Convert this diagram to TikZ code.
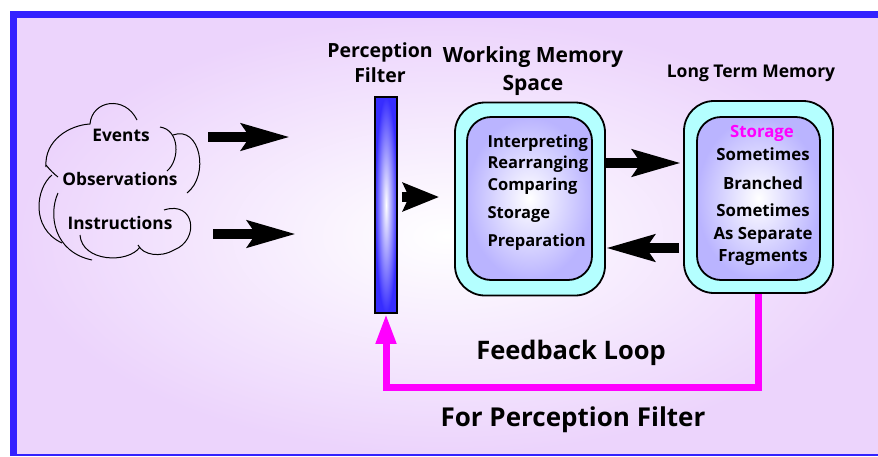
\documentclass[tikz,border=0pt]{standalone}
\usepackage{fontspec}
\setmainfont{Open Sans}
\usetikzlibrary{arrows.meta}
\definecolor{lav}{RGB}{236,212,252}
\definecolor{frameblue}{RGB}{51,34,255}
\definecolor{boxcyan}{RGB}{180,255,255}
\definecolor{boxlav}{RGB}{186,180,255}
\definecolor{barblue}{RGB}{55,45,255}
\definecolor{loopmag}{RGB}{255,0,255}
\tikzset{
  bigarrow/.style={line width=10pt, -{Stealth[length=48pt,width=26pt,inset=8pt]}},
  midarrow/.style={line width=10pt, -{Stealth[length=36pt,width=28pt,inset=6pt]}},
  outerbox/.style={draw, line width=1.8pt, fill=boxcyan, rounded corners=30pt, inner sep=0pt},
  innerbox/.style={draw, line width=1.8pt, inner color=white, outer color=boxlav, rounded corners=24pt, inner sep=0pt},
  cloudtxt/.style={anchor=base, font=\bfseries\fontsize{17.3}{19}\selectfont},
  cloudline/.style={line width=1pt},
  boxtxt/.style={anchor=base west, font=\bfseries\fontsize{16.5}{20}\selectfont},
  ltmtxt/.style={anchor=base, font=\bfseries\fontsize{16.8}{20}\selectfont},
  headtxt/.style={anchor=base, font=\bfseries\fontsize{19.5}{22}\selectfont},
}
\begin{document}
\begin{tikzpicture}[x=1pt,y=-1pt]
    \useasboundingbox (0,0) rectangle (878,456);
    % panel and frame
    \shade[inner color=white, outer color=lav] (17,18) rectangle (878,454);
    \fill[frameblue] (10,11) rectangle (878,18);
    \fill[frameblue] (10,11) rectangle (17,456);
    \fill[frameblue] (10,454) rectangle (878,456);
    % cloud
    \draw[cloudline] (46,167) .. controls (44,140) and (70,125) .. (90,124)
      .. controls (92,100) and (125,95) .. (137,120);
    \draw[cloudline] (46,165) .. controls (50,170) and (54,174) .. (58,177);
    \draw[cloudline] (52,175) .. controls (36,188) and (30,228) .. (62,243);
    \draw[cloudline] (58,193) .. controls (48,215) and (54,252) .. (92,260);
    \draw[cloudline] (80,235) .. controls (82,262) and (128,264) .. (140,247);
    \draw[cloudline] (164,210) .. controls (195,200) and (200,240) .. (174,250)
      .. controls (160,258) and (143,255) .. (138,245);
    \draw[cloudline] (160,127) .. controls (180,130) and (180,160) .. (167,171);
    \draw[cloudline] (173,135) .. controls (200,125) and (210,175) .. (187,193);
    \node[cloudtxt] (events) at (121,141) {Events};
    \node[cloudtxt] (observ) at (120,185) {Observations};
    \node[cloudtxt] (instr) at (120,229) {Instructions};
    \coordinate (in1a) at (208,137);
    \coordinate (in1b) at (290,137);
    \coordinate (in2a) at (213,234);
    \coordinate (in2b) at (296,234);
    \draw[bigarrow] (in1a) -- (in1b);
    \draw[bigarrow] (in2a) -- (in2b);
    % perception filter
    \node[draw, line width=1.5pt, inner color=white, outer color=barblue, minimum width=22pt, minimum height=216pt, inner sep=0pt] (filter) at (386,205) {};
    \node[headtxt] at (380,57) {Perception};
    \node[headtxt] at (380,82) {Filter};
    % working memory
    \node[outerbox, minimum width=150pt, minimum height=193pt] (wmout) at (530,199) {};
    \node[innerbox, minimum width=125pt, minimum height=163pt] (wmin) at (529.5,198.5) {};
    \node[headtxt, font=\bfseries\fontsize{21}{24}\selectfont] at (533,62) {Working Memory};
    \node[headtxt, font=\bfseries\fontsize{21}{24}\selectfont] at (533,90) {Space};
    \node[boxtxt] at (484,147) {Interpreting};
    \node[boxtxt] at (484,168) {Rearranging};
    \node[boxtxt] at (484,190) {Comparing};
    \node[boxtxt] at (484,218) {Storage};
    \node[boxtxt] at (484,246) {Preparation};
    % long term memory
    \node[outerbox, minimum width=149pt, minimum height=192pt] (ltmout) at (758.5,197) {};
    \node[innerbox, minimum width=123pt, minimum height=163pt] (ltmin) at (758.5,198.5) {};
    \node[headtxt, font=\bfseries\fontsize{17.5}{20}\selectfont] at (751,77) {Long Term Memory};
    \node[ltmtxt, text=loopmag] at (762,137) {Storage};
    \node[ltmtxt] at (763,160) {Sometimes};
    \node[ltmtxt] at (763,189) {Branched};
    \node[ltmtxt] at (763,216) {Sometimes};
    \node[ltmtxt] at (763,239) {As Separate};
    \node[ltmtxt] at (763,261) {Fragments};
    % arrows between stages
    \draw[midarrow, shorten <=4pt, shorten >=15pt] ([yshift=8pt]filter.east) -- ([yshift=8pt]filter.east -| wmout.west);
    \draw[bigarrow, shorten >=2pt] ([yshift=36pt]wmout.east) -- ([yshift=36pt]wmout.east -| ltmout.west);
    \draw[bigarrow, shorten <=4pt] ([yshift=-51pt]ltmout.west) -- ([yshift=-51pt]ltmout.west -| wmout.east);
    % feedback loop
    \draw[loopmag, line width=7pt, -{Triangle[length=30pt,width=19pt]}] (ltmout.south) -- ++(0,94) -| (filter.south);
    \node[anchor=base, font=\bfseries\fontsize{25.5}{28}\selectfont] at (571,359) {Feedback Loop};
    \node[anchor=base, font=\bfseries\fontsize{26}{30}\selectfont] at (573,426) {For Perception Filter};
\end{tikzpicture}
\end{document}
